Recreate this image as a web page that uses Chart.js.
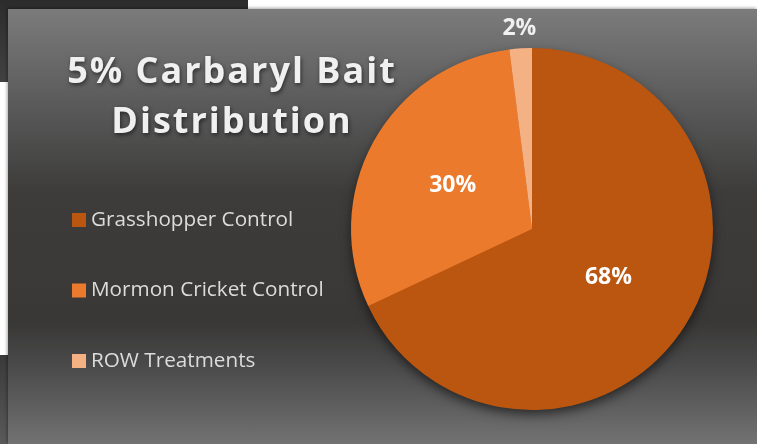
<!DOCTYPE html>
<html>
<head>
<meta charset="utf-8">
<script src="https://cdn.jsdelivr.net/npm/chart.js@4"></script>
<style>
  html, body { margin: 0; padding: 0; width: 757px; height: 444px; overflow: hidden; background: #fff; }
  #corner { position: absolute; left: 0; top: 0; width: 248px; height: 82px;
    background: linear-gradient(#2c2c2c, #424242); }
  #leftDark { position: absolute; left: 0; top: 355px; width: 9px; height: 89px;
    background: linear-gradient(#3a3a3a, #5a5a5a); }
  #panel { position: absolute; left: 8px; top: 9px; right: 0; bottom: 0;
    background: linear-gradient(#7b7b7b 0%, #5a5a5a 22%, #3d3c3b 42%, #393837 72%, #4a4a4a 82%, #727272 100%);
    box-shadow: -1px -1px 3px rgba(0,0,0,0.35); }
  #wrap { position: absolute; left: 0; top: 0; width: 757px; height: 444px; }
</style>
</head>
<body>
<div id="corner"></div>
<div id="leftDark"></div>
<div id="panel"></div>
<div id="wrap"><canvas id="pie" width="757" height="444"></canvas></div>
<script>
const titleLines = ['5% Carbaryl Bait', 'Distribution'];
const categories = ['Grasshopper Control', 'Mormon Cricket Control', 'ROW Treatments'];
const shares = [68, 30, 2];
const colors = ['#bb5610', '#ec7a2c', '#f4b184'];

// title, legend and labels painted on the canvas
const decor = {
  id: 'decor',
  beforeDatasetsDraw(chart) {
    // soft drop shadow under the pie
    const ctx = chart.ctx;
    const arc = chart.getDatasetMeta(0).data[0];
    ctx.save();
    ctx.shadowColor = 'rgba(0,0,0,0.6)';
    ctx.shadowBlur = 12;
    ctx.shadowOffsetY = 5;
    ctx.fillStyle = colors[0];
    ctx.beginPath();
    ctx.arc(arc.x, arc.y, arc.outerRadius - 1, 0, Math.PI * 2);
    ctx.fill();
    ctx.restore();
  },
  afterDraw(chart) {
    const ctx = chart.ctx;
    ctx.save();

    // title
    ctx.font = 'bold 36px "Open Sans"';
    ctx.letterSpacing = '2px';
    ctx.textAlign = 'center';
    ctx.textBaseline = 'alphabetic';
    ctx.shadowColor = 'rgba(0,0,0,0.55)';
    ctx.shadowBlur = 4;
    ctx.shadowOffsetX = 1;
    ctx.shadowOffsetY = 2;
    ctx.fillStyle = '#f0f0f0';
    titleLines.forEach((t, i) => ctx.fillText(t, 232, 83 + i * 50));
    ctx.shadowColor = 'transparent';

    // legend
    ctx.font = '20.7px "Open Sans"';
    ctx.letterSpacing = '0px';
    ctx.textAlign = 'left';
    ctx.textBaseline = 'middle';
    categories.forEach((c, i) => {
      const y = 220 + i * 70.5;
      ctx.fillStyle = colors[i];
      ctx.fillRect(72, y - 7, 14, 14);
      ctx.fillStyle = '#dcdcdc';
      ctx.fillText(c, 91, y);
    });

    // data labels
    const meta = chart.getDatasetMeta(0);
    ctx.font = 'bold 23px "Open Sans"';
    ctx.textAlign = 'center';
    meta.data.forEach((a, i) => {
      const mid = (a.startAngle + a.endAngle) / 2;
      const r = shares[i] < 5 ? a.outerRadius + 20 : a.outerRadius * 0.5;
      ctx.fillStyle = shares[i] < 5 ? '#f0f0f0' : '#ffffff';
      ctx.fillText(shares[i] + '%', a.x + Math.cos(mid) * r, a.y + Math.sin(mid) * r);
    });
    ctx.restore();
  }
};

new Chart(document.getElementById('pie'), {
  type: 'pie',
  data: {
    labels: categories,
    datasets: [{
      data: shares,
      backgroundColor: colors,
      borderWidth: 0
    }]
  },
  options: {
    responsive: false,
    animation: false,
    layout: { padding: { left: 351, right: 44, top: 48, bottom: 34 } },
    plugins: {
      legend: { display: false },
      tooltip: { enabled: false }
    }
  },
  plugins: [decor]
});
</script>
</body>
</html>
